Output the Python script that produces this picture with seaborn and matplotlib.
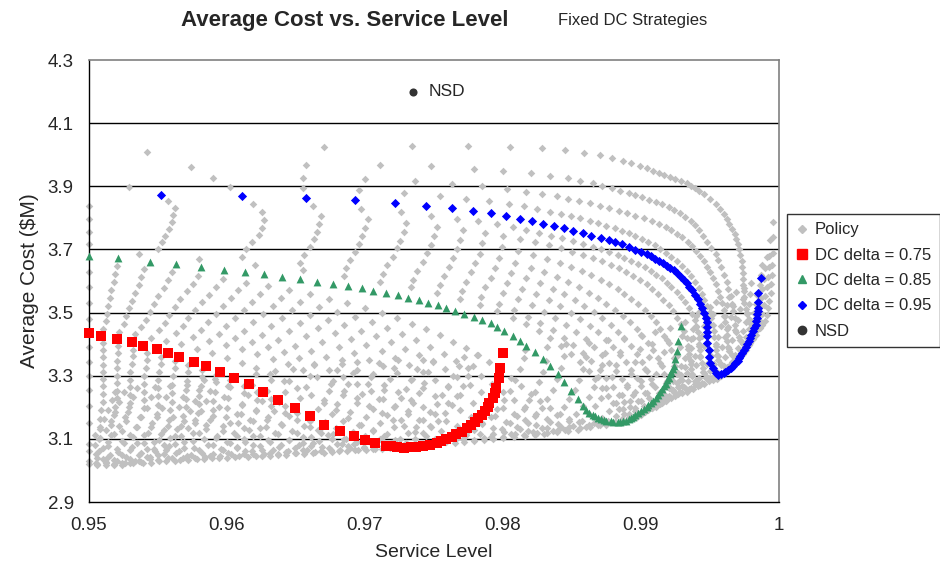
import matplotlib
matplotlib.use("Agg")
import matplotlib.pyplot as plt
from matplotlib.lines import Line2D
import seaborn as sns
import pandas as pd

sns.set_theme(style="white")
plt.rcParams["font.family"] = ["Liberation Sans", "DejaVu Sans"]

# ---------------------------------------------------------------------------
# Fixed DC strategies: (service level, average cost $M) along each delta curve
# ---------------------------------------------------------------------------
dc_075 = [(0.9500, 3.434), (0.9509, 3.425), (0.9520, 3.415), (0.9531, 3.406), (0.9539, 3.393),
          (0.9549, 3.384), (0.9557, 3.372), (0.9565, 3.358), (0.9576, 3.343), (0.9585, 3.330),
          (0.9595, 3.312), (0.9605, 3.292), (0.9616, 3.273), (0.9626, 3.247), (0.9637, 3.223),
          (0.9649, 3.198), (0.9660, 3.172), (0.9670, 3.144), (0.9682, 3.124), (0.9692, 3.109),
          (0.9700, 3.095), (0.9707, 3.086), (0.9715, 3.078), (0.9719, 3.076), (0.9723, 3.073),
          (0.9728, 3.072), (0.9733, 3.073), (0.9737, 3.074), (0.9742, 3.077), (0.9747, 3.081),
          (0.9752, 3.088), (0.9755, 3.093), (0.9759, 3.099), (0.9763, 3.106), (0.9766, 3.114),
          (0.9770, 3.123), (0.9774, 3.133), (0.9777, 3.143), (0.9780, 3.154), (0.9782, 3.165),
          (0.9785, 3.176), (0.9787, 3.189), (0.9789, 3.202), (0.9790, 3.215), (0.9793, 3.228),
          (0.9794, 3.244), (0.9795, 3.260), (0.9797, 3.292), (0.9798, 3.323), (0.9800, 3.371)]

dc_085 = [(0.9500, 3.679), (0.9521, 3.672), (0.9544, 3.660), (0.9563, 3.653), (0.9581, 3.645),
          (0.9598, 3.636), (0.9613, 3.628), (0.9627, 3.621), (0.9640, 3.614), (0.9653, 3.606),
          (0.9665, 3.598), (0.9677, 3.590), (0.9688, 3.583), (0.9698, 3.577), (0.9706, 3.569),
          (0.9715, 3.562), (0.9724, 3.555), (0.9731, 3.547), (0.9739, 3.539), (0.9746, 3.531),
          (0.9753, 3.523), (0.9759, 3.514), (0.9765, 3.505), (0.9772, 3.495), (0.9779, 3.486),
          (0.9785, 3.476), (0.9791, 3.466), (0.9796, 3.455), (0.9801, 3.442), (0.9807, 3.427),
          (0.9812, 3.411), (0.9817, 3.393), (0.9823, 3.375), (0.9829, 3.352), (0.9834, 3.330),
          (0.9840, 3.305), (0.9844, 3.280), (0.9849, 3.253), (0.9854, 3.227), (0.9858, 3.203),
          (0.9860, 3.192), (0.9862, 3.182), (0.9865, 3.176), (0.9867, 3.171), (0.9869, 3.167),
          (0.9871, 3.164), (0.9873, 3.160), (0.9875, 3.157), (0.9878, 3.155), (0.9880, 3.153),
          (0.9883, 3.152), (0.9885, 3.153), (0.9887, 3.155), (0.9889, 3.158), (0.9891, 3.162),
          (0.9893, 3.166), (0.9894, 3.170), (0.9896, 3.175), (0.9898, 3.181), (0.9900, 3.187),
          (0.9902, 3.193), (0.9904, 3.200), (0.9905, 3.207), (0.9907, 3.214), (0.9909, 3.221),
          (0.9911, 3.230), (0.9912, 3.239), (0.9914, 3.248), (0.9915, 3.257), (0.9917, 3.266),
          (0.9918, 3.275), (0.9919, 3.285), (0.9920, 3.294), (0.9921, 3.304), (0.9922, 3.313),
          (0.9923, 3.322), (0.9924, 3.331), (0.9925, 3.353), (0.9926, 3.377), (0.9927, 3.410),
          (0.9929, 3.457)]

dc_095 = [(0.9552, 3.872), (0.9611, 3.868), (0.9657, 3.863), (0.9693, 3.856), (0.9722, 3.848),
          (0.9744, 3.838), (0.9763, 3.830), (0.9778, 3.823), (0.9791, 3.814), (0.9802, 3.805),
          (0.9812, 3.797), (0.9821, 3.789), (0.9829, 3.780), (0.9837, 3.773), (0.9844, 3.767),
          (0.9851, 3.759), (0.9858, 3.751), (0.9864, 3.743), (0.9871, 3.736), (0.9877, 3.730),
          (0.9881, 3.723), (0.9886, 3.716), (0.9891, 3.709), (0.9896, 3.699), (0.9900, 3.692),
          (0.9904, 3.685), (0.9907, 3.678), (0.9910, 3.670), (0.9913, 3.664), (0.9916, 3.656),
          (0.9919, 3.649), (0.9921, 3.641), (0.9924, 3.634), (0.9926, 3.624), (0.9929, 3.614),
          (0.9931, 3.604), (0.9933, 3.593), (0.9935, 3.582), (0.9937, 3.570), (0.9939, 3.557),
          (0.9941, 3.542), (0.9943, 3.528), (0.9944, 3.514), (0.9946, 3.499), (0.9947, 3.484),
          (0.9948, 3.469), (0.9948, 3.454), (0.9948, 3.440), (0.9948, 3.425), (0.9948, 3.404),
          (0.9949, 3.382), (0.9949, 3.360), (0.9950, 3.339), (0.9952, 3.323), (0.9954, 3.309),
          (0.9956, 3.302), (0.9958, 3.304), (0.9960, 3.308), (0.9961, 3.312), (0.9963, 3.318),
          (0.9965, 3.325), (0.9967, 3.332), (0.9968, 3.339), (0.9970, 3.347), (0.9971, 3.355),
          (0.9972, 3.363), (0.9973, 3.371), (0.9975, 3.380), (0.9976, 3.390), (0.9977, 3.399),
          (0.9978, 3.409), (0.9979, 3.420), (0.9980, 3.430), (0.9981, 3.441), (0.9982, 3.452),
          (0.9983, 3.462), (0.9983, 3.473), (0.9984, 3.483), (0.9984, 3.494), (0.9985, 3.505),
          (0.9985, 3.516), (0.9985, 3.532), (0.9985, 3.561), (0.9987, 3.610)]

nsd_service = [0.9735]
nsd_cost = [4.20]

# ---------------------------------------------------------------------------
# Full policy grid, one list per DC delta level
# ---------------------------------------------------------------------------
policy_099 = [(0.9542, 4.008), (0.9670, 4.023), (0.9734, 4.027), (0.9775, 4.028), (0.9805, 4.026),
              (0.9828, 4.020), (0.9845, 4.014), (0.9859, 4.007), (0.9870, 3.998), (0.9879, 3.990),
              (0.9887, 3.981), (0.9893, 3.974), (0.9899, 3.965), (0.9904, 3.958), (0.9909, 3.950),
              (0.9913, 3.943), (0.9917, 3.936), (0.9921, 3.930), (0.9925, 3.922), (0.9929, 3.916),
              (0.9933, 3.910), (0.9936, 3.902), (0.9939, 3.895), (0.9942, 3.886), (0.9946, 3.874),
              (0.9950, 3.860), (0.9954, 3.845), (0.9957, 3.828), (0.9960, 3.812), (0.9962, 3.797),
              (0.9964, 3.781), (0.9966, 3.765), (0.9968, 3.749), (0.9969, 3.733), (0.9970, 3.717),
              (0.9971, 3.700), (0.9972, 3.682), (0.9973, 3.663), (0.9973, 3.644), (0.9974, 3.625),
              (0.9974, 3.606), (0.9974, 3.587), (0.9975, 3.568), (0.9975, 3.549), (0.9975, 3.530),
              (0.9976, 3.512), (0.9977, 3.495), (0.9978, 3.479), (0.9980, 3.465), (0.9982, 3.455),
              (0.9984, 3.450), (0.9986, 3.452), (0.9988, 3.460), (0.9990, 3.474), (0.9991, 3.492),
              (0.9992, 3.513), (0.9993, 3.537), (0.9994, 3.563), (0.99945, 3.591), (0.9995, 3.620),
              (0.99953, 3.650), (0.99955, 3.690), (0.99957, 3.740), (0.99957, 3.787)]

policy_098 = [(0.9574, 3.962), (0.9657, 3.966), (0.9711, 3.966), (0.9748, 3.964), (0.9779, 3.956),
              (0.9800, 3.950), (0.9820, 3.943), (0.9834, 3.934), (0.9847, 3.926), (0.9856, 3.918),
              (0.9865, 3.910), (0.9872, 3.902), (0.9879, 3.895), (0.9885, 3.886), (0.9891, 3.878),
              (0.9896, 3.871), (0.9901, 3.865), (0.9906, 3.857), (0.9911, 3.850), (0.9915, 3.844),
              (0.9920, 3.835), (0.9924, 3.826), (0.9928, 3.816), (0.9932, 3.804), (0.9936, 3.790),
              (0.9939, 3.776), (0.9942, 3.760), (0.9945, 3.743), (0.9948, 3.725), (0.9951, 3.706),
              (0.9954, 3.686), (0.9956, 3.665), (0.9958, 3.643), (0.9960, 3.620), (0.9962, 3.597),
              (0.9963, 3.574), (0.9965, 3.551), (0.9966, 3.528), (0.9967, 3.505), (0.9968, 3.482),
              (0.9968, 3.460), (0.9969, 3.440), (0.9971, 3.422), (0.9973, 3.408), (0.9975, 3.401),
              (0.9977, 3.400), (0.9979, 3.405), (0.9981, 3.415), (0.9983, 3.430), (0.9985, 3.449),
              (0.9987, 3.471), (0.9988, 3.496), (0.9989, 3.523), (0.9990, 3.552), (0.9991, 3.582),
              (0.9992, 3.613), (0.99925, 3.645), (0.9993, 3.680), (0.99935, 3.730)]

policy_097 = [(0.9590, 3.927), (0.9655, 3.927), (0.9700, 3.922), (0.9736, 3.918), (0.9763, 3.908),
              (0.9785, 3.902), (0.9803, 3.892), (0.9817, 3.883), (0.9828, 3.876), (0.9839, 3.868),
              (0.9847, 3.861), (0.9855, 3.852), (0.9863, 3.846), (0.9870, 3.837), (0.9877, 3.830),
              (0.9884, 3.822), (0.9890, 3.814), (0.9896, 3.806), (0.9902, 3.799), (0.9908, 3.790),
              (0.9913, 3.781), (0.9918, 3.771), (0.9922, 3.761), (0.9926, 3.750), (0.9930, 3.738),
              (0.9934, 3.725), (0.9937, 3.711), (0.9940, 3.696), (0.9943, 3.680), (0.9946, 3.663),
              (0.9948, 3.645), (0.9950, 3.627), (0.9952, 3.608), (0.9954, 3.589), (0.9956, 3.569),
              (0.9957, 3.549), (0.9959, 3.529), (0.9960, 3.509), (0.9961, 3.489), (0.9961, 3.469),
              (0.9962, 3.449), (0.9962, 3.429), (0.9962, 3.410), (0.9963, 3.392), (0.9964, 3.377),
              (0.9966, 3.366), (0.9968, 3.360), (0.9970, 3.359), (0.9972, 3.362), (0.9974, 3.370),
              (0.9976, 3.382), (0.9978, 3.398), (0.9980, 3.417), (0.9982, 3.439), (0.9984, 3.463),
              (0.9985, 3.489), (0.9986, 3.517), (0.9987, 3.546), (0.9988, 3.576), (0.9989, 3.607),
              (0.9990, 3.640), (0.9991, 3.675)]

policy_096 = [(0.9529, 3.899), (0.9602, 3.897), (0.9655, 3.895), (0.9696, 3.887), (0.9728, 3.880),
              (0.9754, 3.870), (0.9773, 3.860), (0.9790, 3.852), (0.9804, 3.844), (0.9815, 3.836),
              (0.9825, 3.828), (0.9834, 3.820), (0.9842, 3.813), (0.9849, 3.806), (0.9856, 3.798),
              (0.9863, 3.790), (0.9869, 3.783), (0.9875, 3.775), (0.9881, 3.767), (0.9886, 3.759),
              (0.9891, 3.751), (0.9896, 3.742), (0.9901, 3.733), (0.9905, 3.723), (0.9910, 3.713),
              (0.9914, 3.702), (0.9918, 3.690), (0.9922, 3.677), (0.9926, 3.663), (0.9930, 3.648),
              (0.9933, 3.632), (0.9936, 3.615), (0.9939, 3.597), (0.9942, 3.579), (0.9944, 3.560),
              (0.9946, 3.541), (0.9948, 3.522), (0.9950, 3.502), (0.9951, 3.482), (0.9952, 3.462),
              (0.9953, 3.442), (0.9953, 3.422), (0.9954, 3.402), (0.9954, 3.383), (0.9955, 3.365),
              (0.9956, 3.350), (0.9958, 3.338), (0.9960, 3.331), (0.9962, 3.329), (0.9964, 3.332),
              (0.9966, 3.339), (0.9968, 3.350), (0.9970, 3.364), (0.9972, 3.381), (0.9974, 3.401),
              (0.9976, 3.423), (0.9978, 3.447), (0.9980, 3.473), (0.9982, 3.500), (0.9983, 3.528),
              (0.9984, 3.557), (0.9986, 3.587), (0.9987, 3.618), (0.9988, 3.650)]

policy_094 = [(0.9557, 3.853), (0.9619, 3.844), (0.9662, 3.836), (0.9697, 3.827),
              (0.9726, 3.817), (0.9748, 3.806), (0.9767, 3.797), (0.9782, 3.789), (0.9796, 3.779),
              (0.9807, 3.770), (0.9817, 3.761), (0.9826, 3.752), (0.9835, 3.744), (0.9843, 3.736),
              (0.9851, 3.727), (0.9858, 3.718), (0.9865, 3.709), (0.9871, 3.700), (0.9877, 3.691),
              (0.9883, 3.682), (0.9888, 3.673), (0.9893, 3.664), (0.9898, 3.654), (0.9903, 3.643),
              (0.9907, 3.632), (0.9911, 3.620), (0.9915, 3.608), (0.9919, 3.594), (0.9922, 3.580),
              (0.9926, 3.565), (0.9929, 3.549), (0.9932, 3.532), (0.9935, 3.514), (0.9937, 3.496),
              (0.9939, 3.477), (0.9940, 3.458), (0.9941, 3.439), (0.9942, 3.420), (0.9942, 3.400),
              (0.9943, 3.380), (0.9943, 3.360), (0.9944, 3.341), (0.9945, 3.323), (0.9946, 3.308),
              (0.9948, 3.296), (0.9950, 3.289), (0.9952, 3.287), (0.9955, 3.290), (0.9958, 3.298),
              (0.9961, 3.310), (0.9964, 3.326), (0.9966, 3.345), (0.9968, 3.366), (0.9970, 3.389),
              (0.9972, 3.414), (0.9974, 3.441), (0.9976, 3.469), (0.9977, 3.498), (0.9978, 3.528),
              (0.9979, 3.560), (0.9980, 3.594)]

policy_093 = [(0.9500, 3.838), (0.9562, 3.830), (0.9625, 3.818), (0.9668, 3.806), (0.9702, 3.795),
              (0.9730, 3.783), (0.9752, 3.772), (0.9771, 3.762), (0.9787, 3.752), (0.9800, 3.742),
              (0.9812, 3.733), (0.9823, 3.723), (0.9833, 3.713), (0.9842, 3.703), (0.9850, 3.693),
              (0.9858, 3.683), (0.9865, 3.673), (0.9872, 3.662), (0.9878, 3.651), (0.9884, 3.640),
              (0.9889, 3.628), (0.9894, 3.616), (0.9899, 3.603), (0.9904, 3.589), (0.9908, 3.574),
              (0.9912, 3.558), (0.9916, 3.541), (0.9920, 3.523), (0.9923, 3.504), (0.9926, 3.484),
              (0.9929, 3.463), (0.9931, 3.441), (0.9933, 3.418), (0.9934, 3.394), (0.9935, 3.370),
              (0.9936, 3.346), (0.9936, 3.322), (0.9937, 3.300), (0.9939, 3.284), (0.9941, 3.275),
              (0.9943, 3.272), (0.9946, 3.275), (0.9949, 3.283), (0.9952, 3.296), (0.9955, 3.313),
              (0.9958, 3.334), (0.9961, 3.358), (0.9964, 3.385), (0.9966, 3.414), (0.9968, 3.445),
              (0.9970, 3.477), (0.9972, 3.510), (0.9974, 3.544), (0.9975, 3.579)]

policy_092 = [(0.9561, 3.808), (0.9627, 3.792), (0.9667, 3.781), (0.9700, 3.769),
              (0.9728, 3.756), (0.9750, 3.743), (0.9769, 3.731), (0.9785, 3.719), (0.9799, 3.707),
              (0.9811, 3.695), (0.9822, 3.683), (0.9832, 3.670), (0.9841, 3.658), (0.9849, 3.645),
              (0.9857, 3.632), (0.9864, 3.618), (0.9871, 3.604), (0.9877, 3.590), (0.9883, 3.575),
              (0.9888, 3.559), (0.9893, 3.543), (0.9898, 3.526), (0.9903, 3.508), (0.9907, 3.489),
              (0.9911, 3.469), (0.9914, 3.448), (0.9917, 3.426), (0.9920, 3.403), (0.9922, 3.380),
              (0.9924, 3.356), (0.9925, 3.332), (0.9927, 3.308), (0.9928, 3.286), (0.9930, 3.268),
              (0.9932, 3.260), (0.9935, 3.257), (0.9938, 3.259), (0.9941, 3.266), (0.9944, 3.278),
              (0.9947, 3.294), (0.9950, 3.314), (0.9953, 3.337), (0.9956, 3.363), (0.9959, 3.392),
              (0.9961, 3.422), (0.9963, 3.454), (0.9965, 3.487), (0.9967, 3.521), (0.9969, 3.564)]

policy_091 = [(0.9500, 3.797), (0.9560, 3.786), (0.9625, 3.769), (0.9665, 3.756), (0.9698, 3.742),
              (0.9725, 3.728), (0.9748, 3.714), (0.9767, 3.700), (0.9783, 3.686), (0.9797, 3.672),
              (0.9809, 3.657), (0.9820, 3.642), (0.9830, 3.627), (0.9839, 3.612), (0.9847, 3.596),
              (0.9855, 3.580), (0.9862, 3.563), (0.9869, 3.546), (0.9875, 3.528), (0.9881, 3.509),
              (0.9887, 3.490), (0.9892, 3.470), (0.9897, 3.449), (0.9901, 3.427), (0.9905, 3.404),
              (0.9909, 3.380), (0.9912, 3.355), (0.9915, 3.330), (0.9917, 3.305), (0.9919, 3.282),
              (0.9921, 3.262), (0.9924, 3.249), (0.9927, 3.243), (0.9930, 3.244), (0.9933, 3.250),
              (0.9936, 3.260), (0.9939, 3.274), (0.9942, 3.292), (0.9945, 3.313), (0.9948, 3.337),
              (0.9951, 3.364), (0.9954, 3.393), (0.9956, 3.424), (0.9958, 3.456), (0.9960, 3.490),
              (0.9962, 3.525), (0.9964, 3.549)]

policy_090 = [(0.9558, 3.765), (0.9623, 3.746), (0.9663, 3.732), (0.9696, 3.718),
              (0.9723, 3.703), (0.9745, 3.688), (0.9764, 3.673), (0.9780, 3.657), (0.9794, 3.642),
              (0.9806, 3.626), (0.9817, 3.610), (0.9827, 3.593), (0.9836, 3.576), (0.9844, 3.559),
              (0.9852, 3.541), (0.9859, 3.522), (0.9866, 3.503), (0.9872, 3.483), (0.9878, 3.462),
              (0.9883, 3.440), (0.9888, 3.417), (0.9893, 3.393), (0.9897, 3.368), (0.9901, 3.342),
              (0.9904, 3.316), (0.9907, 3.290), (0.9910, 3.265), (0.9913, 3.245), (0.9916, 3.232),
              (0.9919, 3.227), (0.9922, 3.229), (0.9925, 3.236), (0.9928, 3.248), (0.9931, 3.264),
              (0.9934, 3.284), (0.9937, 3.307), (0.9940, 3.333), (0.9943, 3.362), (0.9946, 3.393),
              (0.9948, 3.426), (0.9950, 3.460), (0.9952, 3.495), (0.9954, 3.533)]

policy_089 = [(0.9500, 3.755), (0.9555, 3.744), (0.9618, 3.724), (0.9660, 3.708), (0.9693, 3.693),
              (0.9720, 3.677), (0.9742, 3.661), (0.9761, 3.645), (0.9777, 3.628), (0.9791, 3.611),
              (0.9803, 3.594), (0.9814, 3.576), (0.9824, 3.558), (0.9833, 3.539), (0.9841, 3.520),
              (0.9849, 3.500), (0.9856, 3.480), (0.9863, 3.459), (0.9869, 3.437), (0.9875, 3.414),
              (0.9880, 3.391), (0.9885, 3.367), (0.9889, 3.342), (0.9893, 3.317), (0.9897, 3.292),
              (0.9900, 3.268), (0.9903, 3.246), (0.9906, 3.228), (0.9909, 3.217), (0.9912, 3.212),
              (0.9915, 3.214), (0.9918, 3.221), (0.9921, 3.232), (0.9924, 3.247), (0.9927, 3.265),
              (0.9930, 3.286), (0.9933, 3.310), (0.9936, 3.336), (0.9939, 3.364), (0.9942, 3.394),
              (0.9944, 3.425), (0.9946, 3.456), (0.9948, 3.487), (0.9950, 3.518)]

policy_088 = [(0.9553, 3.723), (0.9614, 3.700), (0.9656, 3.683), (0.9689, 3.667),
              (0.9716, 3.650), (0.9738, 3.633), (0.9757, 3.616), (0.9773, 3.598), (0.9787, 3.580),
              (0.9800, 3.561), (0.9811, 3.542), (0.9821, 3.523), (0.9830, 3.503), (0.9838, 3.482),
              (0.9846, 3.461), (0.9853, 3.439), (0.9860, 3.416), (0.9866, 3.392), (0.9872, 3.367),
              (0.9877, 3.341), (0.9882, 3.315), (0.9886, 3.289), (0.9890, 3.263), (0.9894, 3.239),
              (0.9898, 3.219), (0.9902, 3.205), (0.9905, 3.198), (0.9908, 3.197), (0.9911, 3.201),
              (0.9914, 3.209), (0.9917, 3.221), (0.9920, 3.237), (0.9923, 3.256), (0.9926, 3.278),
              (0.9929, 3.302), (0.9932, 3.329), (0.9934, 3.358), (0.9936, 3.389), (0.9938, 3.421),
              (0.9940, 3.455), (0.9942, 3.503)]

policy_087 = [(0.9500, 3.716), (0.9550, 3.702), (0.9611, 3.677), (0.9653, 3.658), (0.9686, 3.640),
              (0.9713, 3.622), (0.9735, 3.604), (0.9754, 3.586), (0.9770, 3.567), (0.9784, 3.548),
              (0.9797, 3.528), (0.9808, 3.508), (0.9818, 3.487), (0.9827, 3.466), (0.9836, 3.444),
              (0.9844, 3.421), (0.9851, 3.397), (0.9858, 3.372), (0.9864, 3.346), (0.9870, 3.319),
              (0.9875, 3.292), (0.9880, 3.265), (0.9884, 3.240), (0.9888, 3.218), (0.9892, 3.200),
              (0.9896, 3.188), (0.9899, 3.182), (0.9902, 3.184), (0.9905, 3.190), (0.9908, 3.199),
              (0.9911, 3.211), (0.9914, 3.225), (0.9917, 3.242), (0.9920, 3.261), (0.9923, 3.282),
              (0.9926, 3.305), (0.9929, 3.330), (0.9932, 3.357), (0.9934, 3.386), (0.9936, 3.416),
              (0.9938, 3.447), (0.9940, 3.488)]

policy_086 = [(0.9536, 3.686), (0.9580, 3.670), (0.9620, 3.652), (0.9655, 3.634),
              (0.9685, 3.616), (0.9711, 3.598), (0.9733, 3.580), (0.9752, 3.562), (0.9769, 3.543),
              (0.9783, 3.524), (0.9796, 3.504), (0.9807, 3.484), (0.9817, 3.463), (0.9826, 3.441),
              (0.9834, 3.418), (0.9842, 3.394), (0.9849, 3.369), (0.9856, 3.343), (0.9862, 3.316),
              (0.9867, 3.289), (0.9872, 3.262), (0.9876, 3.236), (0.9880, 3.213), (0.9884, 3.194),
              (0.9888, 3.178), (0.9891, 3.169), (0.9894, 3.166), (0.9897, 3.168), (0.9900, 3.174),
              (0.9903, 3.184), (0.9906, 3.197), (0.9909, 3.213), (0.9912, 3.232), (0.9915, 3.253),
              (0.9918, 3.277), (0.9921, 3.303), (0.9924, 3.331), (0.9926, 3.361), (0.9928, 3.392),
              (0.9930, 3.425), (0.9932, 3.470)]

policy_084 = [(0.9520, 3.647), (0.9540, 3.637), (0.9560, 3.627), (0.9579, 3.617),
              (0.9597, 3.606), (0.9614, 3.595), (0.9630, 3.583), (0.9645, 3.571), (0.9660, 3.558),
              (0.9674, 3.544), (0.9687, 3.530), (0.9700, 3.515), (0.9712, 3.499), (0.9723, 3.482),
              (0.9734, 3.465), (0.9744, 3.447), (0.9754, 3.428), (0.9764, 3.408), (0.9773, 3.387),
              (0.9782, 3.365), (0.9790, 3.342), (0.9798, 3.318), (0.9806, 3.293), (0.9813, 3.268),
              (0.9820, 3.243), (0.9827, 3.219), (0.9834, 3.197), (0.9841, 3.178), (0.9848, 3.163),
              (0.9855, 3.152), (0.9862, 3.145), (0.9869, 3.143), (0.9875, 3.145), (0.9881, 3.152),
              (0.9886, 3.163), (0.9891, 3.178), (0.9896, 3.197), (0.9900, 3.220), (0.9904, 3.246),
              (0.9908, 3.275), (0.9911, 3.306), (0.9914, 3.340), (0.9917, 3.376), (0.9919, 3.413),
              (0.9921, 3.450)]

policy_083 = [(0.9500, 3.630), (0.9519, 3.622), (0.9538, 3.612), (0.9557, 3.602), (0.9575, 3.592),
              (0.9592, 3.581), (0.9608, 3.570), (0.9624, 3.558), (0.9639, 3.545), (0.9653, 3.532),
              (0.9667, 3.518), (0.9680, 3.503), (0.9693, 3.487), (0.9705, 3.470), (0.9716, 3.452),
              (0.9727, 3.433), (0.9737, 3.413), (0.9747, 3.392), (0.9757, 3.370), (0.9766, 3.347),
              (0.9775, 3.323), (0.9784, 3.298), (0.9792, 3.273), (0.9800, 3.248), (0.9808, 3.224),
              (0.9816, 3.201), (0.9824, 3.180), (0.9832, 3.162), (0.9840, 3.148), (0.9848, 3.139),
              (0.9856, 3.134), (0.9863, 3.136), (0.9870, 3.143), (0.9876, 3.155), (0.9882, 3.172),
              (0.9887, 3.194), (0.9892, 3.220), (0.9896, 3.250), (0.9900, 3.283), (0.9903, 3.320),
              (0.9906, 3.360), (0.9908, 3.400), (0.9910, 3.440)]

policy_082 = [(0.9518, 3.597), (0.9536, 3.588), (0.9554, 3.578), (0.9571, 3.568),
              (0.9587, 3.557), (0.9603, 3.546), (0.9618, 3.534), (0.9633, 3.521), (0.9647, 3.507),
              (0.9660, 3.493), (0.9673, 3.477), (0.9685, 3.461), (0.9697, 3.443), (0.9708, 3.425),
              (0.9719, 3.406), (0.9729, 3.386), (0.9739, 3.365), (0.9749, 3.343), (0.9758, 3.320),
              (0.9767, 3.296), (0.9776, 3.272), (0.9784, 3.247), (0.9792, 3.222), (0.9800, 3.199),
              (0.9808, 3.178), (0.9816, 3.160), (0.9824, 3.145), (0.9832, 3.134), (0.9840, 3.127),
              (0.9847, 3.126), (0.9854, 3.129), (0.9860, 3.137), (0.9866, 3.149), (0.9872, 3.166),
              (0.9877, 3.187), (0.9882, 3.212), (0.9886, 3.240), (0.9890, 3.271), (0.9893, 3.305),
              (0.9896, 3.342), (0.9899, 3.385), (0.9900, 3.430)]

policy_081 = [(0.9500, 3.580), (0.9516, 3.572), (0.9533, 3.563), (0.9550, 3.553), (0.9566, 3.543),
              (0.9582, 3.532), (0.9597, 3.521), (0.9612, 3.509), (0.9626, 3.496), (0.9640, 3.482),
              (0.9653, 3.467), (0.9666, 3.451), (0.9678, 3.434), (0.9690, 3.416), (0.9701, 3.397),
              (0.9712, 3.377), (0.9722, 3.356), (0.9732, 3.334), (0.9742, 3.311), (0.9751, 3.287),
              (0.9760, 3.263), (0.9769, 3.239), (0.9778, 3.215), (0.9786, 3.192), (0.9794, 3.171),
              (0.9802, 3.152), (0.9810, 3.137), (0.9818, 3.126), (0.9825, 3.120), (0.9832, 3.118),
              (0.9839, 3.121), (0.9845, 3.128), (0.9851, 3.140), (0.9857, 3.157), (0.9862, 3.178),
              (0.9867, 3.203), (0.9871, 3.231), (0.9875, 3.262), (0.9879, 3.296), (0.9882, 3.333),
              (0.9885, 3.375), (0.9888, 3.420)]

policy_080 = [(0.9515, 3.547), (0.9531, 3.538), (0.9547, 3.528), (0.9562, 3.518),
              (0.9577, 3.507), (0.9592, 3.495), (0.9606, 3.483), (0.9619, 3.470), (0.9632, 3.456),
              (0.9645, 3.441), (0.9657, 3.425), (0.9669, 3.408), (0.9681, 3.390), (0.9692, 3.371),
              (0.9703, 3.351), (0.9713, 3.330), (0.9723, 3.308), (0.9733, 3.285), (0.9742, 3.261),
              (0.9751, 3.237), (0.9760, 3.213), (0.9769, 3.190), (0.9777, 3.169), (0.9785, 3.150),
              (0.9793, 3.134), (0.9801, 3.122), (0.9809, 3.114), (0.9816, 3.110), (0.9823, 3.111),
              (0.9830, 3.116), (0.9836, 3.125), (0.9842, 3.139), (0.9848, 3.157), (0.9853, 3.179),
              (0.9858, 3.204), (0.9862, 3.232), (0.9866, 3.263), (0.9869, 3.297), (0.9872, 3.334),
              (0.9874, 3.373), (0.9876, 3.412)]

policy_079 = [(0.9500, 3.530), (0.9514, 3.522), (0.9529, 3.513), (0.9544, 3.503), (0.9558, 3.493),
              (0.9572, 3.482), (0.9586, 3.470), (0.9599, 3.457), (0.9612, 3.443), (0.9625, 3.428),
              (0.9637, 3.412), (0.9649, 3.395), (0.9661, 3.377), (0.9672, 3.358), (0.9683, 3.338),
              (0.9694, 3.317), (0.9704, 3.295), (0.9714, 3.272), (0.9724, 3.248), (0.9733, 3.224),
              (0.9742, 3.200), (0.9751, 3.178), (0.9759, 3.158), (0.9767, 3.140), (0.9775, 3.126),
              (0.9783, 3.115), (0.9791, 3.107), (0.9800, 3.103), (0.9808, 3.105), (0.9815, 3.111),
              (0.9822, 3.121), (0.9828, 3.135), (0.9834, 3.153), (0.9839, 3.175), (0.9844, 3.200),
              (0.9848, 3.227), (0.9852, 3.256), (0.9855, 3.288), (0.9858, 3.322), (0.9860, 3.360),
              (0.9862, 3.405)]

policy_078 = [(0.9513, 3.497), (0.9527, 3.488), (0.9541, 3.478), (0.9555, 3.468),
              (0.9568, 3.457), (0.9581, 3.446), (0.9594, 3.433), (0.9606, 3.420), (0.9618, 3.406),
              (0.9630, 3.391), (0.9641, 3.374), (0.9652, 3.357), (0.9663, 3.338), (0.9674, 3.318),
              (0.9684, 3.297), (0.9694, 3.275), (0.9704, 3.251), (0.9713, 3.227), (0.9722, 3.203),
              (0.9731, 3.180), (0.9739, 3.159), (0.9747, 3.140), (0.9755, 3.124), (0.9763, 3.111),
              (0.9771, 3.101), (0.9779, 3.096), (0.9786, 3.095), (0.9793, 3.098), (0.9800, 3.105),
              (0.9806, 3.116), (0.9812, 3.131), (0.9818, 3.150), (0.9823, 3.172), (0.9828, 3.197),
              (0.9832, 3.225), (0.9836, 3.256), (0.9839, 3.289), (0.9842, 3.325), (0.9844, 3.362),
              (0.9846, 3.400)]

policy_077 = [(0.9500, 3.480), (0.9512, 3.472), (0.9525, 3.463), (0.9538, 3.454), (0.9551, 3.444),
              (0.9563, 3.434), (0.9575, 3.423), (0.9587, 3.411), (0.9599, 3.398), (0.9611, 3.384),
              (0.9622, 3.369), (0.9633, 3.353), (0.9644, 3.336), (0.9655, 3.317), (0.9665, 3.297),
              (0.9675, 3.275), (0.9685, 3.252), (0.9694, 3.228), (0.9703, 3.205), (0.9712, 3.182),
              (0.9720, 3.160), (0.9728, 3.140), (0.9736, 3.122), (0.9744, 3.108), (0.9751, 3.098),
              (0.9758, 3.091), (0.9765, 3.088), (0.9772, 3.089), (0.9779, 3.094), (0.9786, 3.102),
              (0.9793, 3.114), (0.9799, 3.130), (0.9805, 3.150), (0.9810, 3.172), (0.9815, 3.196),
              (0.9819, 3.222), (0.9823, 3.250), (0.9826, 3.280), (0.9829, 3.312), (0.9831, 3.348),
              (0.9832, 3.390)]

policy_076 = [(0.9510, 3.449), (0.9522, 3.440), (0.9533, 3.431), (0.9545, 3.421),
              (0.9556, 3.410), (0.9567, 3.399), (0.9578, 3.386), (0.9589, 3.372), (0.9600, 3.357),
              (0.9611, 3.341), (0.9621, 3.323), (0.9631, 3.304), (0.9641, 3.284), (0.9651, 3.262),
              (0.9661, 3.239), (0.9670, 3.215), (0.9679, 3.191), (0.9688, 3.167), (0.9697, 3.145),
              (0.9706, 3.125), (0.9714, 3.108), (0.9722, 3.095), (0.9730, 3.086), (0.9738, 3.081),
              (0.9745, 3.080), (0.9752, 3.083), (0.9759, 3.089), (0.9766, 3.098), (0.9773, 3.111),
              (0.9779, 3.127), (0.9785, 3.147), (0.9791, 3.170), (0.9796, 3.195), (0.9801, 3.223),
              (0.9805, 3.253), (0.9809, 3.286), (0.9812, 3.321), (0.9815, 3.357), (0.9816, 3.380)]

policy_074 = [(0.9510, 3.403), (0.9521, 3.393), (0.9532, 3.383), (0.9542, 3.372),
              (0.9552, 3.360), (0.9562, 3.347), (0.9572, 3.333), (0.9582, 3.318), (0.9592, 3.302),
              (0.9602, 3.285), (0.9612, 3.267), (0.9622, 3.247), (0.9632, 3.226), (0.9642, 3.204),
              (0.9651, 3.181), (0.9660, 3.158), (0.9669, 3.136), (0.9677, 3.116), (0.9685, 3.098),
              (0.9692, 3.084), (0.9699, 3.074), (0.9706, 3.069), (0.9712, 3.068), (0.9718, 3.071),
              (0.9724, 3.078), (0.9730, 3.088), (0.9736, 3.101), (0.9742, 3.117), (0.9748, 3.136),
              (0.9753, 3.158), (0.9758, 3.182), (0.9763, 3.208), (0.9767, 3.236), (0.9771, 3.266),
              (0.9775, 3.298), (0.9778, 3.331), (0.9781, 3.365)]

policy_073 = [(0.9500, 3.390), (0.9510, 3.381), (0.9521, 3.371), (0.9532, 3.361), (0.9542, 3.350),
              (0.9552, 3.338), (0.9562, 3.325), (0.9572, 3.311), (0.9582, 3.296), (0.9592, 3.280),
              (0.9602, 3.263), (0.9612, 3.244), (0.9622, 3.224), (0.9632, 3.203), (0.9642, 3.181),
              (0.9651, 3.159), (0.9660, 3.137), (0.9668, 3.117), (0.9676, 3.099), (0.9683, 3.084),
              (0.9689, 3.072), (0.9695, 3.065), (0.9701, 3.064), (0.9707, 3.068), (0.9713, 3.076),
              (0.9719, 3.087), (0.9725, 3.101), (0.9731, 3.118), (0.9737, 3.138), (0.9742, 3.160),
              (0.9747, 3.184), (0.9752, 3.210), (0.9756, 3.238), (0.9760, 3.268), (0.9764, 3.300),
              (0.9768, 3.332), (0.9772, 3.360)]

policy_072 = [(0.9510, 3.358), (0.9520, 3.348), (0.9531, 3.337), (0.9541, 3.325),
              (0.9551, 3.312), (0.9561, 3.298), (0.9571, 3.283), (0.9581, 3.267), (0.9591, 3.250),
              (0.9601, 3.231), (0.9611, 3.211), (0.9621, 3.190), (0.9630, 3.168), (0.9639, 3.146),
              (0.9647, 3.125), (0.9655, 3.105), (0.9662, 3.088), (0.9669, 3.074), (0.9675, 3.065),
              (0.9681, 3.060), (0.9687, 3.060), (0.9693, 3.064), (0.9699, 3.072), (0.9705, 3.083),
              (0.9711, 3.098), (0.9716, 3.116), (0.9721, 3.137), (0.9726, 3.161), (0.9731, 3.187),
              (0.9735, 3.215), (0.9739, 3.245), (0.9743, 3.277), (0.9746, 3.311), (0.9749, 3.346)]

policy_071 = [(0.9500, 3.345), (0.9510, 3.335), (0.9520, 3.324), (0.9530, 3.312), (0.9540, 3.299),
              (0.9550, 3.285), (0.9560, 3.270), (0.9570, 3.254), (0.9580, 3.237), (0.9590, 3.219),
              (0.9600, 3.199), (0.9610, 3.178), (0.9619, 3.157), (0.9628, 3.136), (0.9637, 3.115),
              (0.9645, 3.096), (0.9652, 3.079), (0.9658, 3.066), (0.9664, 3.058), (0.9670, 3.056),
              (0.9676, 3.059), (0.9682, 3.066), (0.9688, 3.077), (0.9694, 3.091), (0.9700, 3.108),
              (0.9706, 3.128), (0.9711, 3.150), (0.9716, 3.174), (0.9721, 3.200), (0.9726, 3.228),
              (0.9730, 3.258), (0.9734, 3.289), (0.9738, 3.320), (0.9742, 3.350)]

policy_070 = [(0.9510, 3.312), (0.9520, 3.300), (0.9530, 3.288), (0.9540, 3.274),
              (0.9550, 3.260), (0.9560, 3.244), (0.9570, 3.227), (0.9580, 3.209), (0.9590, 3.190),
              (0.9599, 3.170), (0.9608, 3.149), (0.9616, 3.128), (0.9624, 3.108), (0.9631, 3.090),
              (0.9638, 3.074), (0.9644, 3.062), (0.9650, 3.055), (0.9656, 3.053), (0.9662, 3.055),
              (0.9668, 3.061), (0.9674, 3.071), (0.9680, 3.084), (0.9686, 3.101), (0.9691, 3.121),
              (0.9696, 3.144), (0.9701, 3.169), (0.9706, 3.196), (0.9710, 3.225), (0.9714, 3.256),
              (0.9718, 3.289), (0.9721, 3.323), (0.9724, 3.350)]

policy_069 = [(0.9500, 3.300), (0.9510, 3.289), (0.9520, 3.277), (0.9530, 3.264), (0.9540, 3.250),
              (0.9550, 3.235), (0.9560, 3.218), (0.9570, 3.200), (0.9579, 3.181), (0.9588, 3.161),
              (0.9597, 3.140), (0.9605, 3.119), (0.9612, 3.099), (0.9619, 3.081), (0.9625, 3.066),
              (0.9631, 3.055), (0.9637, 3.050), (0.9643, 3.050), (0.9649, 3.055), (0.9655, 3.064),
              (0.9661, 3.077), (0.9667, 3.093), (0.9673, 3.112), (0.9679, 3.134), (0.9684, 3.158),
              (0.9689, 3.184), (0.9694, 3.212), (0.9698, 3.242), (0.9702, 3.273), (0.9706, 3.305),
              (0.9710, 3.340)]

policy_068 = [(0.9510, 3.266), (0.9520, 3.253), (0.9530, 3.239), (0.9540, 3.224),
              (0.9550, 3.208), (0.9559, 3.190), (0.9568, 3.171), (0.9577, 3.151), (0.9585, 3.130),
              (0.9593, 3.110), (0.9600, 3.091), (0.9607, 3.074), (0.9613, 3.061), (0.9619, 3.052),
              (0.9625, 3.047), (0.9631, 3.047), (0.9637, 3.051), (0.9643, 3.059), (0.9649, 3.071),
              (0.9655, 3.087), (0.9661, 3.106), (0.9666, 3.128), (0.9671, 3.153), (0.9676, 3.180),
              (0.9680, 3.209), (0.9684, 3.240), (0.9688, 3.273), (0.9691, 3.308), (0.9694, 3.345)]

policy_067 = [(0.9500, 3.255), (0.9510, 3.242), (0.9520, 3.228), (0.9530, 3.213), (0.9540, 3.197),
              (0.9549, 3.180), (0.9558, 3.161), (0.9567, 3.141), (0.9575, 3.120), (0.9583, 3.099),
              (0.9590, 3.080), (0.9597, 3.064), (0.9603, 3.052), (0.9609, 3.045), (0.9615, 3.043),
              (0.9621, 3.046), (0.9627, 3.053), (0.9633, 3.064), (0.9639, 3.079), (0.9645, 3.097),
              (0.9651, 3.118), (0.9656, 3.141), (0.9661, 3.166), (0.9666, 3.193), (0.9670, 3.222),
              (0.9674, 3.252), (0.9677, 3.284), (0.9680, 3.318), (0.9683, 3.350)]

policy_066 = [(0.9510, 3.216), (0.9519, 3.201), (0.9528, 3.185), (0.9537, 3.168),
              (0.9546, 3.149), (0.9554, 3.129), (0.9562, 3.109), (0.9569, 3.089), (0.9576, 3.071),
              (0.9582, 3.056), (0.9588, 3.045), (0.9594, 3.040), (0.9600, 3.039), (0.9606, 3.043),
              (0.9612, 3.051), (0.9618, 3.063), (0.9624, 3.078), (0.9630, 3.097), (0.9635, 3.119),
              (0.9640, 3.144), (0.9645, 3.171), (0.9649, 3.200), (0.9653, 3.231), (0.9657, 3.264),
              (0.9660, 3.299), (0.9663, 3.335)]

policy_065 = [(0.9500, 3.205), (0.9509, 3.190), (0.9518, 3.174), (0.9527, 3.157), (0.9535, 3.138),
              (0.9543, 3.118), (0.9551, 3.097), (0.9558, 3.077), (0.9565, 3.060), (0.9571, 3.047),
              (0.9577, 3.039), (0.9583, 3.036), (0.9589, 3.038), (0.9595, 3.045), (0.9601, 3.056),
              (0.9607, 3.071), (0.9613, 3.089), (0.9619, 3.110), (0.9624, 3.134), (0.9629, 3.160),
              (0.9634, 3.188), (0.9638, 3.218), (0.9642, 3.250), (0.9645, 3.284), (0.9648, 3.320)]

policy_064 = [(0.9508, 3.162), (0.9516, 3.145), (0.9524, 3.126), (0.9532, 3.106),
              (0.9540, 3.086), (0.9547, 3.067), (0.9554, 3.051), (0.9560, 3.040), (0.9566, 3.034),
              (0.9572, 3.032), (0.9578, 3.035), (0.9584, 3.042), (0.9590, 3.053), (0.9596, 3.068),
              (0.9602, 3.087), (0.9607, 3.109), (0.9612, 3.133), (0.9617, 3.160), (0.9621, 3.189),
              (0.9625, 3.220), (0.9629, 3.253), (0.9632, 3.288), (0.9635, 3.315)]

policy_063 = [(0.9500, 3.150), (0.9508, 3.132), (0.9516, 3.113), (0.9524, 3.093), (0.9531, 3.073),
              (0.9538, 3.055), (0.9544, 3.041), (0.9550, 3.032), (0.9556, 3.029), (0.9562, 3.031),
              (0.9568, 3.038), (0.9574, 3.049), (0.9580, 3.064), (0.9586, 3.082), (0.9592, 3.103),
              (0.9597, 3.126), (0.9602, 3.151), (0.9607, 3.178), (0.9611, 3.207), (0.9615, 3.238),
              (0.9618, 3.271), (0.9621, 3.305)]

policy_062 = [(0.9507, 3.098), (0.9514, 3.078), (0.9521, 3.058), (0.9527, 3.042),
              (0.9533, 3.031), (0.9539, 3.025), (0.9545, 3.025), (0.9551, 3.030), (0.9557, 3.040),
              (0.9563, 3.054), (0.9569, 3.072), (0.9575, 3.093), (0.9580, 3.117), (0.9585, 3.143),
              (0.9590, 3.171), (0.9594, 3.202), (0.9598, 3.234), (0.9601, 3.268), (0.9604, 3.300)]

policy_061 = [(0.9500, 3.085), (0.9507, 3.062), (0.9514, 3.043), (0.9520, 3.030), (0.9526, 3.023),
              (0.9532, 3.022), (0.9538, 3.026), (0.9544, 3.035), (0.9550, 3.048), (0.9556, 3.065),
              (0.9562, 3.085), (0.9567, 3.108), (0.9572, 3.133), (0.9577, 3.160), (0.9581, 3.189),
              (0.9585, 3.220), (0.9588, 3.253), (0.9591, 3.290)]

policy_060 = [(0.9506, 3.038), (0.9512, 3.026), (0.9518, 3.019), (0.9524, 3.018),
              (0.9530, 3.022), (0.9536, 3.031), (0.9542, 3.044), (0.9548, 3.061), (0.9554, 3.081),
              (0.9559, 3.104), (0.9564, 3.130), (0.9569, 3.158), (0.9573, 3.188), (0.9577, 3.220),
              (0.9580, 3.254), (0.9583, 3.285)]

policy_059 = [(0.9500, 3.030), (0.9506, 3.020), (0.9512, 3.016), (0.9518, 3.018), (0.9524, 3.024),
              (0.9530, 3.035), (0.9536, 3.050), (0.9542, 3.068), (0.9547, 3.090), (0.9552, 3.114),
              (0.9557, 3.140), (0.9561, 3.169), (0.9565, 3.200), (0.9568, 3.233), (0.9571, 3.270)]

policy_058 = [(0.9506, 3.018), (0.9512, 3.024), (0.9518, 3.034), (0.9524, 3.048),
              (0.9530, 3.066), (0.9535, 3.088), (0.9540, 3.112), (0.9545, 3.139), (0.9549, 3.168),
              (0.9553, 3.199), (0.9556, 3.232), (0.9559, 3.268)]

policy_057 = [(0.9500, 3.020), (0.9505, 3.025), (0.9510, 3.035), (0.9515, 3.049), (0.9520, 3.067),
              (0.9525, 3.088), (0.9530, 3.112), (0.9534, 3.139), (0.9538, 3.168), (0.9542, 3.199),
              (0.9545, 3.232), (0.9548, 3.265)]

policy_056 = [(0.9505, 3.052), (0.9510, 3.070), (0.9514, 3.091), (0.9518, 3.115),
              (0.9522, 3.141), (0.9526, 3.169), (0.9529, 3.200), (0.9532, 3.233), (0.9535, 3.260)]

policy_055 = [(0.9500, 3.060), (0.9504, 3.080), (0.9508, 3.103), (0.9512, 3.128), (0.9516, 3.155),
              (0.9519, 3.185), (0.9522, 3.217), (0.9525, 3.250)]

policy_054 = [(0.9504, 3.112), (0.9508, 3.136), (0.9511, 3.163), (0.9514, 3.192),
              (0.9517, 3.223), (0.9519, 3.250)]

policy_rows = [policy_099, policy_098, policy_097, policy_096, policy_094, policy_093,
               policy_092, policy_091, policy_090, policy_089, policy_088, policy_087,
               policy_086, policy_084, policy_083, policy_082, policy_081, policy_080,
               policy_079, policy_078, policy_077, policy_076, policy_074, policy_073,
               policy_072, policy_071, policy_070, policy_069, policy_068, policy_067,
               policy_066, policy_065, policy_064, policy_063, policy_062, policy_061,
               policy_060, policy_059, policy_058, policy_057, policy_056, policy_055,
               policy_054]

x_ticks = [0.95, 0.96, 0.97, 0.98, 0.99, 1.00]
x_labels = ["0.95", "0.96", "0.97", "0.98", "0.99", "1"]
y_ticks = [2.9, 3.1, 3.3, 3.5, 3.7, 3.9, 4.1, 4.3]
y_labels = ["2.9", "3.1", "3.3", "3.5", "3.7", "3.9", "4.1", "4.3"]

GRAY = "#c0c0c0"
RED = "#ff0000"
GREEN = "#339966"
BLUE = "#0000ff"
DARK = "#333333"


def to_frame(points):
    return pd.DataFrame(points, columns=["service", "cost"])


policy = pd.concat([to_frame(r) for r in policy_rows], ignore_index=True)

fig = plt.figure(figsize=(9.4, 5.65), dpi=100)
ax = fig.add_axes([0.0947, 0.1115, 0.734, 0.7823])

for y in y_ticks[1:-1]:
    ax.axhline(y, color="black", lw=1.0, zorder=1)

common = dict(ax=ax, legend=False, linewidth=0, clip_on=False)
sns.scatterplot(data=policy, x="service", y="cost", marker="D", s=15, color=GRAY, zorder=2, **common)
sns.scatterplot(data=to_frame(dc_075), x="service", y="cost", marker="s", s=46, color=RED, zorder=3, **common)
sns.scatterplot(data=to_frame(dc_085), x="service", y="cost", marker="^", s=32, color=GREEN, zorder=3, **common)
sns.scatterplot(data=to_frame(dc_095), x="service", y="cost", marker="D", s=22, color=BLUE, zorder=3, **common)
sns.scatterplot(x=nsd_service, y=nsd_cost, marker="o", s=34, color=DARK, zorder=3, **common)
ax.text(nsd_service[0] + 0.0011, nsd_cost[0], "NSD", fontsize=12.5, va="center", ha="left")

ax.set_xlim(0.95, 1.0)
ax.set_ylim(2.9, 4.3)
ax.set_xticks(x_ticks)
ax.set_xticklabels(x_labels, fontsize=13.5)
ax.set_yticks(y_ticks)
ax.set_yticklabels(y_labels, fontsize=13.5)
ax.tick_params(axis="both", direction="out", length=5, width=1, color="black", pad=6)
ax.set_xlabel("Service Level", fontsize=14, labelpad=7)
ax.set_ylabel("Average Cost ($M)", fontsize=15, labelpad=6)

for side in ("left", "bottom"):
    ax.spines[side].set_color("black")
    ax.spines[side].set_linewidth(1.0)
for side in ("top", "right"):
    ax.spines[side].set_color("#808080")
    ax.spines[side].set_linewidth(1.2)

fig.text(0.367, 0.963, "Average Cost vs. Service Level", fontsize=16, fontweight="bold",
         ha="center", va="center")
fig.text(0.673, 0.963, "Fixed DC Strategies", fontsize=12, ha="center", va="center")

handles = [
    Line2D([], [], ls="none", marker="D", ms=4, color=GRAY, mec=GRAY),
    Line2D([], [], ls="none", marker="s", ms=7, color=RED, mec=RED),
    Line2D([], [], ls="none", marker="^", ms=6, color=GREEN, mec=GREEN),
    Line2D([], [], ls="none", marker="D", ms=4.5, color=BLUE, mec=BLUE),
    Line2D([], [], ls="none", marker="o", ms=6, color=DARK, mec=DARK),
]
labels = ["Policy", "DC delta = 0.75", "DC delta = 0.85", "DC delta = 0.95", "NSD"]
leg = fig.legend(handles, labels, loc="upper left", bbox_to_anchor=(0.837, 0.621),
                 frameon=True, fancybox=False, fontsize=12, handlelength=0.8,
                 handletextpad=0.4, borderpad=0.5, labelspacing=0.62, borderaxespad=0)
leg.get_frame().set_edgecolor("black")
leg.get_frame().set_linewidth(1.0)

fig.savefig("out.png", dpi=100)
